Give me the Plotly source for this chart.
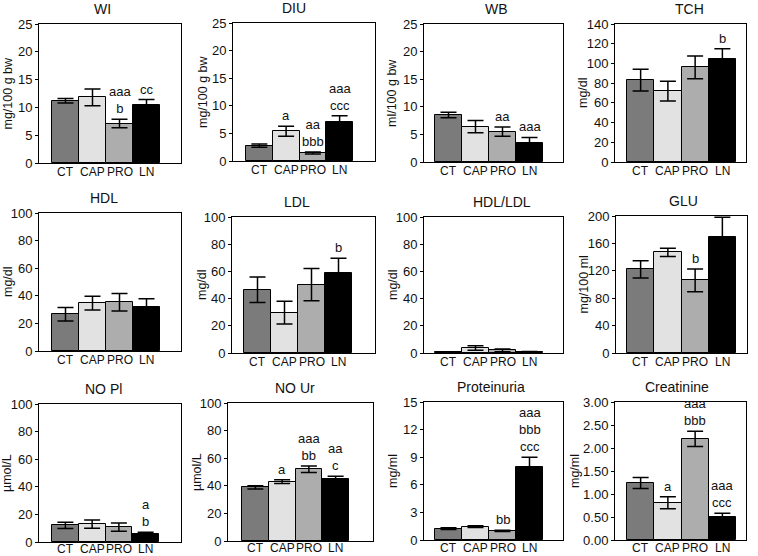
import plotly.graph_objects as go

W, H = 758, 556
groups = ["CT", "CAP", "PRO", "LN"]
bar_colors = ["#7b7b7b", "#e2e2e2", "#adadad", "#000000"]

titles = ["WI", "DIU", "WB", "TCH", "HDL", "LDL", "HDL/LDL", "GLU",
          "NO Pl", "NO Ur", "Proteinuria", "Creatinine"]
units = ["mg/100 g bw", "mg/100 g bw", "ml/100 g bw", "mg/dl",
         "mg/dl", "mg/dl", "mg/dl", "mg/100 ml",
         "µmol/L", "µmol/L", "mg/ml", "mg/ml"]

wi_mean = [11.2, 11.8, 7.1, 10.5]
wi_err = [0.4, 1.5, 0.75, 0.9]
wi_sig = ["", "", "aaa<br>b", "cc"]

diu_mean = [2.8, 5.4, 1.45, 7.1]
diu_err = [0.3, 0.9, 0.2, 1.1]
diu_sig = ["", "a", "aa<br>bbb", "aaa<br>ccc"]

wb_mean = [8.5, 6.4, 5.5, 3.4]
wb_err = [0.5, 1.1, 0.85, 1.05]
wb_sig = ["", "", "aa", "aaa"]

tch_mean = [83, 72, 96, 105]
tch_err = [11, 10, 11.5, 10]
tch_sig = ["", "", "", "b"]

hdl_mean = [26.7, 34.7, 35.3, 32]
hdl_err = [4.9, 5.0, 6.4, 5.8]
hdl_sig = ["", "", "", ""]

ldl_mean = [46.5, 29.7, 50.3, 59]
ldl_err = [9.4, 8.3, 11.8, 10.7]
ldl_sig = ["", "", "", "b"]

ratio_mean = [0.5, 3.7, 2.0, 0.8]
ratio_err = [0.2, 1.7, 1.0, 0.3]
ratio_sig = ["", "", "", ""]

glu_mean = [122, 147, 106, 169]
glu_err = [12.5, 6, 16.5, 29]
glu_sig = ["", "", "b", ""]

nopl_mean = [12, 13, 10.8, 6]
nopl_err = [2.3, 3, 3, 1]
nopl_sig = ["", "", "", "a<br>b"]

nour_mean = [38.8, 43, 52, 44.7]
nour_err = [1.2, 1.3, 2.4, 2.2]
nour_sig = ["", "a", "aaa<br>bb", "aa<br>c"]

prot_mean = [1.23, 1.45, 1.0, 7.9]
prot_err = [0.1, 0.1, 0.07, 1.1]
prot_sig = ["", "", "bb", "aaa<br>bbb<br>ccc"]

creat_mean = [1.24, 0.81, 2.2, 0.49]
creat_err = [0.12, 0.13, 0.165, 0.09]
creat_sig = ["", "a", "aaa<br>bbb", "aaa<br>ccc"]

means = [wi_mean, diu_mean, wb_mean, tch_mean, hdl_mean, ldl_mean,
         ratio_mean, glu_mean, nopl_mean, nour_mean, prot_mean, creat_mean]
errs = [wi_err, diu_err, wb_err, tch_err, hdl_err, ldl_err,
        ratio_err, glu_err, nopl_err, nour_err, prot_err, creat_err]
sigs = [wi_sig, diu_sig, wb_sig, tch_sig, hdl_sig, ldl_sig,
        ratio_sig, glu_sig, nopl_sig, nour_sig, prot_sig, creat_sig]

# axis scales (max, dtick, format)
yscales = [(25, 5, ""), (25, 5, ""), (25, 5, ""), (140, 20, ""),
           (100, 20, ""), (100, 20, ""), (100, 20, ""), (200, 40, ""),
           (100, 20, ""), (100, 20, ""), (15, 3, ""), (3, 0.5, ".2f")]

# geometry in pixels: box left, right, top, bottom; bars left, right
geom = [
    (39, 181, 24, 163, 52, 160), (233, 375, 23, 161, 246, 353),
    (424, 563, 24, 162, 435, 543), (615, 746, 24, 162, 627, 736),
    (39, 181, 213, 351, 52, 160), (232, 375, 217, 353, 244, 352),
    (424, 563, 217, 353, 435, 543), (616, 747, 216, 353, 627, 736),
    (39, 181, 404, 542, 52, 159), (228, 373, 403, 541, 242, 349),
    (424, 563, 402, 540, 435, 543), (615, 746, 402, 540, 627, 736),
]
title_x = [102, 294, 496, 689, 104, 297, 502, 683, 103, 295, 491, 677]
ytitle_x = [8, 203, 392, 583, 8, 202, 393, 583, 7, 197, 393, 575]
xlabel_gap = [9, 9, 9, 9, 9, 9, 9, 9, 7, 7, 8, 8]

FONT = "Liberation Sans, Arial, sans-serif"
fig = go.Figure()
layout = dict(
    template="none",
    width=W, height=H, margin=dict(l=0, r=0, t=0, b=0, autoexpand=False),
    paper_bgcolor="white", plot_bgcolor="white", showlegend=False,
    bargap=0, font=dict(family=FONT, size=13, color="#111111"),
)
annotations = []

for i in range(12):
    n = "" if i == 0 else str(i + 1)
    l, r, t, b, bl, br = geom[i]
    unit = (br - bl) / 4.0
    lo = -0.5 - (bl - l) / unit
    hi = 3.5 + (r - br) / unit
    ymax, dt, fmt = yscales[i]
    fig.add_trace(go.Bar(
        x=list(range(4)), y=means[i],
        marker=dict(color=bar_colors, line=dict(color="black", width=1)),
        error_y=dict(type="data", array=errs[i], color="black",
                     thickness=1.5, width=8),
        xaxis="x" + n, yaxis="y" + n, width=1.0,
    ))
    layout["xaxis" + n] = dict(
        domain=[l / W, r / W], range=[lo, hi], anchor="y" + n,
        tickmode="array", tickvals=list(range(4)), ticktext=groups,
        showticklabels=False, ticks="", showline=True, mirror=True,
        linecolor="black", linewidth=1, showgrid=False, zeroline=False,
        automargin=False, fixedrange=True,
    )
    layout["yaxis" + n] = dict(
        domain=[1 - b / H, 1 - t / H], range=[0, ymax], anchor="x" + n,
        dtick=dt, tick0=0, tickformat=fmt, ticks="outside", ticklen=3,
        tickcolor="black", showline=True, mirror=True, linecolor="black",
        linewidth=1, showgrid=False, zeroline=False, automargin=False,
        tickfont=dict(size=13, family=FONT, color="#111111"),
        fixedrange=True,
    )
    annotations.append(dict(
        text=titles[i], xref="paper", yref="paper", x=title_x[i] / W,
        y=1 - (t - 15) / H, xanchor="center", yanchor="middle",
        showarrow=False, font=dict(size=14, family=FONT, color="#111111"),
    ))
    annotations.append(dict(
        text=units[i], xref="paper", yref="paper", x=ytitle_x[i] / W,
        y=1 - ((t + b) / 2) / H, xanchor="center", yanchor="middle",
        textangle=-90, showarrow=False,
        font=dict(size=12.5, family=FONT, color="#111111"),
    ))
    for j in range(4):
        annotations.append(dict(
            text=groups[j], xref="x" + n, yref="paper", x=j,
            y=1 - (b + xlabel_gap[i]) / H, xanchor="center",
            yanchor="middle", showarrow=False,
            font=dict(size=12, family=FONT, color="#111111"),
        ))
        if sigs[i][j]:
            annotations.append(dict(
                text=sigs[i][j], xref="x" + n, yref="y" + n, x=j,
                y=means[i][j] + errs[i][j], xanchor="center",
                yanchor="bottom", yshift=1, showarrow=False,
                font=dict(size=13, family=FONT, color="#111111"),
            ))

layout["annotations"] = annotations
fig.update_layout(**layout)
fig.write_html(
    "out.html",
    config={"displayModeBar": False},
    post_script="document.body.style.margin='0';"
                "document.body.style.padding='0';"
                "document.body.style.overflow='hidden';",
)
